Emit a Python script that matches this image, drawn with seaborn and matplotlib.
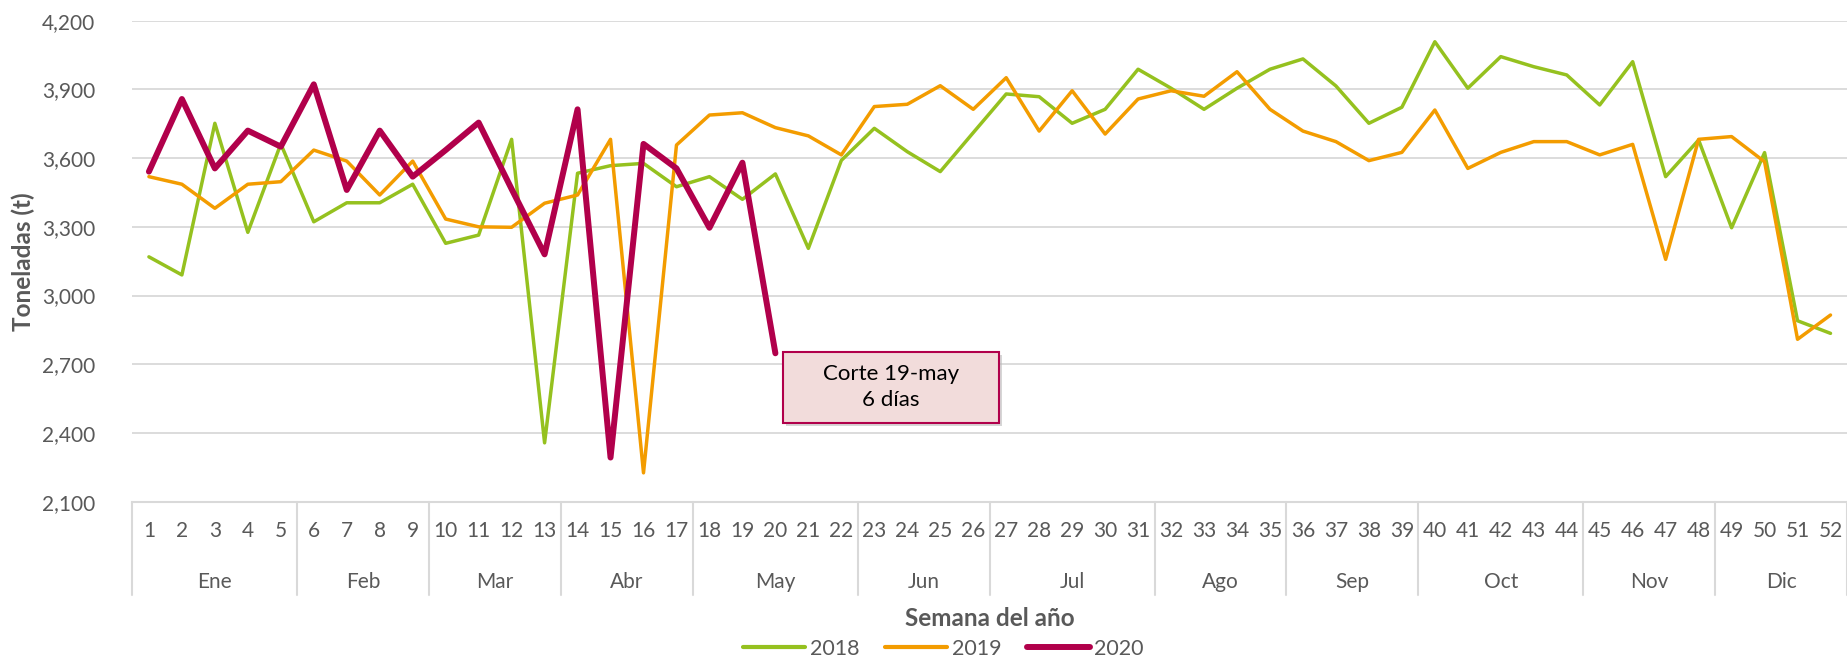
import numpy as np
import pandas as pd
import matplotlib
matplotlib.use("Agg")
import matplotlib.pyplot as plt
import seaborn as sns
from matplotlib.lines import Line2D
from matplotlib.patches import Rectangle
from matplotlib.ticker import FuncFormatter

# Weekly tonnage
weeks = list(range(1, 53))

t_2018 = [3169, 3090, 3752, 3276, 3662, 3322, 3405, 3405, 3486, 3228,
          3264, 3682, 2357, 3534, 3567, 3577, 3475, 3519, 3420, 3531,
          3206, 3590, 3730, 3628, 3541, 3711, 3880, 3868, 3752, 3813,
          3988, 3905, 3813, 3905, 3988, 4033, 3915, 3752, 3822, 4108,
          3905, 4043, 3999, 3963, 3832, 4021, 3519, 3679, 3296, 3624,
          2890, 2835]

t_2019 = [3519, 3486, 3381, 3486, 3497, 3635, 3587, 3439, 3587, 3334,
          3300, 3298, 3403, 3439, 3682, 2226, 3657, 3788, 3798, 3733,
          3697, 3614, 3825, 3835, 3916, 3813, 3951, 3718, 3894, 3705,
          3858, 3894, 3870, 3977, 3813, 3718, 3672, 3589, 3625, 3810,
          3555, 3625, 3672, 3672, 3614, 3660, 3158, 3682, 3694, 3584,
          2809, 2915]

t_2020 = [3541, 3858, 3555, 3720, 3650, 3922, 3461, 3720, 3519, 3635,
          3755, 3465, 3180, 3813, 2293, 3662, 3555, 3296, 3580, 2748]

months = ["Ene", "Feb", "Mar", "Abr", "May", "Jun",
          "Jul", "Ago", "Sep", "Oct", "Nov", "Dic"]
weeks_per_month = [5, 4, 4, 4, 5, 4, 5, 4, 4, 5, 4, 4]

colors = {"2018": "#95C11F", "2019": "#F39C00", "2020": "#B1004B"}
text_color = "#595959"
grid_color = "#D9D9D9"

sns.set_theme(style="white")
plt.rcParams["font.family"] = ["Lato", "DejaVu Sans"]

fig = plt.figure(figsize=(18.47, 6.58), dpi=100)
ax = fig.add_axes([0.0717, 0.2375, 0.9283, 0.7311])

df = pd.concat([
    pd.DataFrame({"semana": weeks, "t": t_2018, "anio": "2018"}),
    pd.DataFrame({"semana": weeks, "t": t_2019, "anio": "2019"}),
    pd.DataFrame({"semana": weeks[:len(t_2020)], "t": t_2020, "anio": "2020"}),
])

for anio, lw in [("2018", 2.5), ("2019", 2.5), ("2020", 4.3)]:
    sub = df[df["anio"] == anio]
    sns.lineplot(data=sub, x="semana", y="t", color=colors[anio], lw=lw,
                 label=anio, ax=ax, solid_capstyle="round",
                 solid_joinstyle="round", legend=False)

ax.set_xlim(0.5, 52.5)
ax.set_ylim(2100, 4200)
ax.set_yticks(np.arange(2100, 4201, 300))
ax.yaxis.set_major_formatter(FuncFormatter(lambda v, p: f"{int(v):,}"))
ax.set_xticks(weeks)
ax.set_xticklabels([str(w) for w in weeks])
ax.tick_params(axis="y", length=0, pad=27, labelsize=15, labelcolor=text_color)
ax.tick_params(axis="x", length=0, pad=14, labelsize=15, labelcolor=text_color)

ax.grid(axis="y", color=grid_color, lw=1.3)
ax.set_axisbelow(True)
for s in ["top", "right", "left"]:
    ax.spines[s].set_visible(False)
ax.spines["bottom"].set_color(grid_color)
ax.spines["bottom"].set_linewidth(1.5)

# month band under the week numbers
sep_bottom = -0.194
edge = 0.5
ax.add_line(Line2D([edge, edge], [0, sep_bottom], transform=ax.get_xaxis_transform(),
                   color=grid_color, lw=1.5, clip_on=False))
for m, n in zip(months, weeks_per_month):
    ax.text(edge + n / 2, -0.1663, m, transform=ax.get_xaxis_transform(),
            ha="center", va="center", fontsize=15, color=text_color)
    edge += n
    ax.add_line(Line2D([edge, edge], [0, sep_bottom], transform=ax.get_xaxis_transform(),
                       color=grid_color, lw=1.5, clip_on=False))

ax.set_ylabel("Toneladas (t)", fontsize=17.5, fontweight="bold", color=text_color)
ax.yaxis.set_label_coords(-0.0639, 0.5)
ax.yaxis.label.set_va("center")
ax.set_xlabel("Semana del año", fontsize=17.5, fontweight="bold", color=text_color)
ax.xaxis.set_label_coords(0.5, -0.242)
ax.xaxis.label.set_va("center")

# cut-off note
box_x0, box_x1 = 20.22, 26.78
box_y0, box_y1 = 2445, 2755
ax.add_patch(Rectangle((box_x0 + 0.1, box_y0 - 15), box_x1 - box_x0, box_y1 - box_y0,
                       facecolor="#BBBBBB", edgecolor="none", alpha=0.6, zorder=4))
ax.add_patch(Rectangle((box_x0, box_y0), box_x1 - box_x0, box_y1 - box_y0,
                       facecolor="#F2DCDB", edgecolor=colors["2020"], lw=1.5, zorder=5))
ax.text((box_x0 + box_x1) / 2, (box_y0 + box_y1) / 2, "Corte 19-may\n6 días",
        ha="center", va="center", fontsize=16, color="black", linespacing=1.4, zorder=6)

handles = [Line2D([], [], color=colors[a], lw=4.3 if a == "2020" else 3.0,
                  solid_capstyle="round") for a in ["2018", "2019", "2020"]]
fig.legend(handles, ["2018", "2019", "2020"], loc="center", ncol=3, frameon=False,
           bbox_to_anchor=(0.5106, 0.0137), fontsize=15.5, handlelength=2.9,
           handletextpad=0.2, columnspacing=1.2, labelcolor=text_color)

fig.savefig("out.png", dpi=100)
